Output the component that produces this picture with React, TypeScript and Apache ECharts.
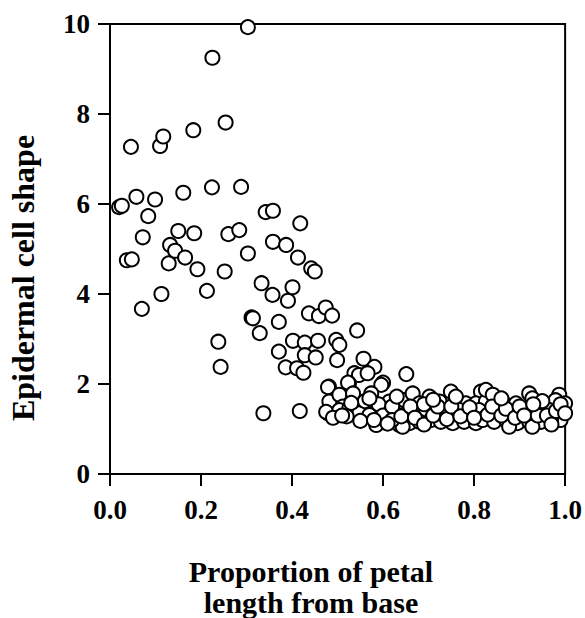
import React, { useEffect, useRef } from "react";
import * as echarts from "echarts";

// Scattered points (basal half of petal): [proportion, cell shape]
const scatteredPoints: number[][] = [
  [0.020, 5.93], [0.026, 5.96], [0.037, 4.75], [0.048, 4.77], [0.046, 7.27],
  [0.058, 6.16], [0.070, 3.67], [0.072, 5.26], [0.084, 5.73], [0.099, 6.10],
  [0.110, 7.29], [0.117, 7.50], [0.113, 4.00], [0.129, 4.68], [0.132, 5.09],
  [0.143, 4.96], [0.150, 5.40], [0.161, 6.25], [0.165, 4.81], [0.183, 7.64],
  [0.185, 5.35], [0.192, 4.55], [0.213, 4.07], [0.224, 6.37], [0.225, 9.25],
  [0.238, 2.94], [0.243, 2.38], [0.252, 4.50], [0.254, 7.81], [0.260, 5.33],
  [0.284, 5.42], [0.288, 6.38], [0.303, 9.93], [0.303, 4.90], [0.311, 3.48],
  [0.314, 3.46], [0.329, 3.13], [0.333, 4.24], [0.337, 1.35], [0.342, 5.82],
  [0.358, 5.85], [0.358, 5.16], [0.357, 3.98], [0.371, 3.38], [0.371, 2.72],
  [0.387, 5.09], [0.386, 2.37], [0.391, 3.85], [0.401, 4.15], [0.402, 2.96],
  [0.411, 2.35], [0.413, 4.81], [0.417, 1.40], [0.418, 5.57], [0.425, 2.25],
  [0.428, 2.92], [0.428, 2.64], [0.437, 3.57], [0.442, 4.57], [0.450, 4.50],
  [0.452, 2.59], [0.457, 2.96], [0.459, 3.51], [0.474, 3.70], [0.488, 3.52],
  [0.497, 2.98], [0.504, 2.87], [0.499, 2.53], [0.543, 3.19], [0.557, 2.56],
  [0.581, 2.38], [0.537, 2.24], [0.547, 2.20], [0.566, 2.24], [0.651, 2.22],
  [0.479, 1.35], [0.481, 1.94], [0.525, 2.01], [0.600, 2.03],
];

// Dense cluster (distal half of petal)
const clusterPoints: number[][] = [
  [0.479, 1.93], [0.523, 2.03], [0.596, 1.98], [0.482, 1.61], [0.504, 1.76],
  [0.534, 1.79], [0.574, 1.79], [0.614, 1.61], [0.475, 1.38], [0.512, 1.50],
  [0.537, 1.38], [0.559, 1.53], [0.588, 1.42], [0.629, 1.42], [0.647, 1.64],
  [0.504, 1.42], [0.526, 1.46], [0.585, 1.09], [0.607, 1.24], [0.636, 1.09],
  [0.548, 1.35], [0.570, 1.31],
  [0.749, 1.83], [0.815, 1.83], [0.665, 1.79], [0.702, 1.72], [0.724, 1.61],
  [0.680, 1.57], [0.760, 1.61], [0.782, 1.57], [0.804, 1.57], [0.826, 1.61],
  [0.651, 1.35], [0.673, 1.42], [0.694, 1.38], [0.716, 1.42], [0.738, 1.35],
  [0.768, 1.42], [0.789, 1.35], [0.811, 1.42], [0.658, 1.13], [0.680, 1.16],
  [0.705, 1.20], [0.727, 1.16], [0.753, 1.13], [0.778, 1.16], [0.804, 1.13],
  [0.822, 1.24], [0.643, 1.05],
  [0.826, 1.87], [0.841, 1.76], [0.921, 1.79], [0.928, 1.68], [0.987, 1.76],
  [1.000, 1.57], [0.979, 1.64], [0.866, 1.57], [0.892, 1.57], [0.950, 1.50],
  [0.848, 1.42], [0.884, 1.38], [0.910, 1.42], [0.932, 1.42], [0.965, 1.42],
  [0.990, 1.20], [0.819, 1.20], [0.844, 1.16], [0.870, 1.20], [0.895, 1.13],
  [0.921, 1.16], [0.947, 1.16], [0.969, 1.20], [0.928, 1.05], [0.877, 1.05],
  [0.49, 1.25], [0.52, 1.28], [0.55, 1.18], [0.56, 1.62], [0.59, 1.55],
  [0.60, 1.30], [0.62, 1.50], [0.62, 1.20], [0.64, 1.28], [0.66, 1.50],
  [0.67, 1.25], [0.69, 1.10], [0.69, 1.55], [0.71, 1.30], [0.72, 1.50],
  [0.74, 1.22], [0.75, 1.50], [0.77, 1.28], [0.79, 1.48], [0.80, 1.25],
  [0.83, 1.32], [0.84, 1.50], [0.86, 1.30], [0.87, 1.45], [0.89, 1.25],
  [0.90, 1.50], [0.91, 1.30], [0.94, 1.30], [0.95, 1.62], [0.96, 1.30],
  [0.98, 1.40], [0.99, 1.55], [1.00, 1.35], [0.97, 1.10], [0.93, 1.55],
  [0.86, 1.68], [0.76, 1.72], [0.71, 1.65], [0.63, 1.72], [0.57, 1.68],
  [0.53, 1.58], [0.51, 1.30], [0.58, 1.20], [0.61, 1.12],
];

const xTicks = [0, 0.2, 0.4, 0.6, 0.8, 1.0];
const yTicks = [0, 2, 4, 6, 8, 10];
const yAxisTitle = "Epidermal cell shape";
const xAxisTitleLines = ["Proportion of petal", "length from base"];

const FONT = "'Liberation Serif', 'Times New Roman', serif";

export default function App() {
  const ref = useRef<HTMLDivElement>(null);
  useEffect(() => {
    if (!ref.current) return;
    const chart = echarts.init(ref.current, undefined, { renderer: "svg" });
    const allPoints = [...scatteredPoints, ...clusterPoints];
    chart.setOption({
      animation: false,
      backgroundColor: "#fff",
      grid: {
        left: 110,
        right: 19,
        top: 24,
        bottom: 144,
        show: true,
        borderColor: "#000",
        borderWidth: 2,
        backgroundColor: "transparent",
      },
      xAxis: {
        type: "value",
        min: xTicks[0],
        max: xTicks[xTicks.length - 1],
        interval: 0.2,
        axisLine: { show: true, onZero: false, lineStyle: { color: "#000", width: 2 } },
        axisTick: { show: true, inside: false, length: 12, lineStyle: { color: "#000", width: 2 } },
        splitLine: { show: false },
        axisLabel: {
          margin: 22,
          color: "#000",
          fontFamily: FONT,
          fontWeight: "bold",
          fontSize: 27,
          formatter: (v: number) => v.toFixed(1),
          showMaxLabel: true,
          showMinLabel: true,
        },
      },
      yAxis: {
        type: "value",
        min: yTicks[0],
        max: yTicks[yTicks.length - 1],
        interval: 2,
        axisLine: { show: true, onZero: false, lineStyle: { color: "#000", width: 2 } },
        axisTick: { show: true, inside: false, length: 12, lineStyle: { color: "#000", width: 2 } },
        splitLine: { show: false },
        axisLabel: {
          margin: 20,
          color: "#000",
          fontFamily: FONT,
          fontWeight: "bold",
          fontSize: 27,
        },
      },
      graphic: [
        {
          type: "text",
          x: 23,
          y: 278,
          rotation: Math.PI / 2,
          style: {
            text: yAxisTitle,
            font: `bold 32px ${FONT}`,
            fill: "#000",
            textAlign: "center",
            textVerticalAlign: "middle",
          },
        },
        {
          type: "text",
          x: 311,
          y: 571,
          style: {
            text: xAxisTitleLines[0],
            font: `bold 30px ${FONT}`,
            fill: "#000",
            textAlign: "center",
            textVerticalAlign: "middle",
          },
        },
        {
          type: "text",
          x: 311,
          y: 602,
          style: {
            text: xAxisTitleLines[1],
            font: `bold 30px ${FONT}`,
            fill: "#000",
            textAlign: "center",
            textVerticalAlign: "middle",
          },
        },
      ],
      series: [
        {
          type: "scatter",
          data: allPoints,
          symbol: "circle",
          symbolSize: 14,
          clip: false,
          itemStyle: { color: "#fff", borderColor: "#000", borderWidth: 2, opacity: 1 },
          emphasis: { disabled: true },
        },
      ],
    });
    return () => chart.dispose();
  }, []);
  return <div ref={ref} style={{ width: 585, height: 618, position: "absolute", left: 0, top: 0 }} />;
}
